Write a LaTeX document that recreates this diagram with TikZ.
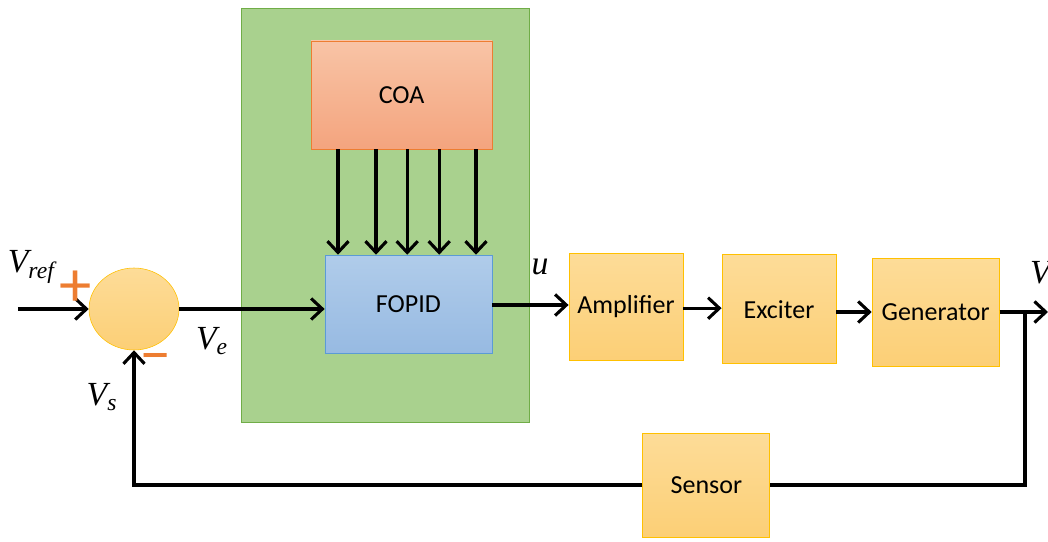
\documentclass[tikz,border=0pt]{standalone}
\usepackage{fontspec}
\setmainfont{Carlito}
\newfontfamily\tnr{Liberation Serif}
\usetikzlibrary{arrows.meta,shapes.geometric}
\definecolor{cgreen}{HTML}{A9D18E}
\definecolor{cgreenb}{HTML}{70AD47}
\definecolor{ccoat}{HTML}{F8C4A6}
\definecolor{ccoab}{HTML}{F4A47E}
\definecolor{ccoad}{HTML}{ED7D31}
\definecolor{cbluet}{HTML}{B0CCEA}
\definecolor{cblueb}{HTML}{97BAE2}
\definecolor{cblued}{HTML}{5B9BD5}
\definecolor{cyelt}{HTML}{FDDC98}
\definecolor{cyelb}{HTML}{FCCF76}
\definecolor{cyeld}{HTML}{FFC000}
\definecolor{csign}{HTML}{ED7D31}

\tikzset{
    blk/.style={draw=cyeld, top color=cyelt, bottom color=cyelb, line width=0.6pt,
        font=\fontsize{18.5}{21}\selectfont, inner sep=0pt},
    sig/.style={font=\tnr\itshape\fontsize{24}{26}\selectfont, inner sep=0pt},
    sgn/.style={text=csign, font=\fontsize{46}{46}\selectfont, inner sep=0pt},
    wire/.style={line width=2.4pt},
    arr/.style={wire, -{Straight Barb[length=8pt,width=15pt,line width=2.2pt]}},
}

\begin{document}
\begin{tikzpicture}
    \useasboundingbox (0,0) rectangle (26.2,13.525);
    \clip (0,0) rectangle (26.2,13.525);

    % controller block
    \node[draw=cgreenb, fill=cgreen, minimum width=7.2cm, minimum height=10.35cm] (ctrl) at (9.625,8.15) {};
    \node[draw=ccoad, top color=ccoat, bottom color=ccoab, minimum width=4.525cm, minimum height=2.7cm,
        font=\fontsize{18.5}{21}\selectfont] (coa) at (10.04,11.15) {COA};
    \node[draw=cblued, top color=cbluet, bottom color=cblueb, minimum width=4.175cm, minimum height=2.45cm,
        font=\fontsize{18.5}{21}\selectfont] (fopid) at (10.21,5.925) {FOPID};
    \foreach \x in {8.45,9.4,10.18,10.98,11.9}
        \draw[arr] (\x,0 |- coa.south) -- (\x,0 |- fopid.north);

    % plant
    \node[ellipse, draw=cyeld, top color=cyelt, bottom color=cyelb, minimum width=2.25cm, minimum height=2.05cm] (sum) at (3.35,5.8) {};
    \node[blk, minimum width=2.85cm, minimum height=2.675cm] (amp) at (15.65,5.86) {Amplifier};
    \node[blk, minimum width=2.85cm, minimum height=2.725cm] (exc) at (19.475,5.79) {Exciter};
    \node[blk, minimum width=3.175cm, minimum height=2.7cm] (gen) at (23.39,5.725) {Generator};
    \node[blk, minimum width=3.175cm, minimum height=2.6cm] (sens) at (17.66,1.4) {Sensor};

    \coordinate (in) at (0.45,5.8);
    \coordinate (out) at (26.2,5.725);
    \coordinate (tap) at (25.625,5.725);

    \draw[arr] (in) -- (sum.west);
    \draw[arr] (sum.east) -- (sum.east -| fopid.west);
    \draw[arr] (fopid.east |- 0,5.9) -- (amp.west |- 0,5.9);
    \draw[arr] (amp.east |- 0,5.82) -- (exc.west |- 0,5.82);
    \draw[arr] (exc.east |- 0,5.725) -- (gen.west |- 0,5.725);
    \draw[arr] (gen.east) -- (out);
    \draw[wire] (tap) |- (sens.east);
    \draw[arr] (sens.west) -| (sum.south);

    % labels
    \node[sig] (vref) at (0.78,6.85) {V\textsubscript{ref}};
    \node[sig] (ve) at (5.3,5.0) {V\textsubscript{e}};
    \node[sig] (vs) at (2.55,3.6) {V\textsubscript{s}};
    \node[sig] (u) at (13.5,6.85) {u};
    \node[sig] (vt) at (26.1,6.65) {V\textsubscript{t}};
    \node[sgn] (plus) at (1.9,6.3) {+};
    \node[sgn] (minus) at (3.9,4.45) {--};
\end{tikzpicture}
\end{document}
